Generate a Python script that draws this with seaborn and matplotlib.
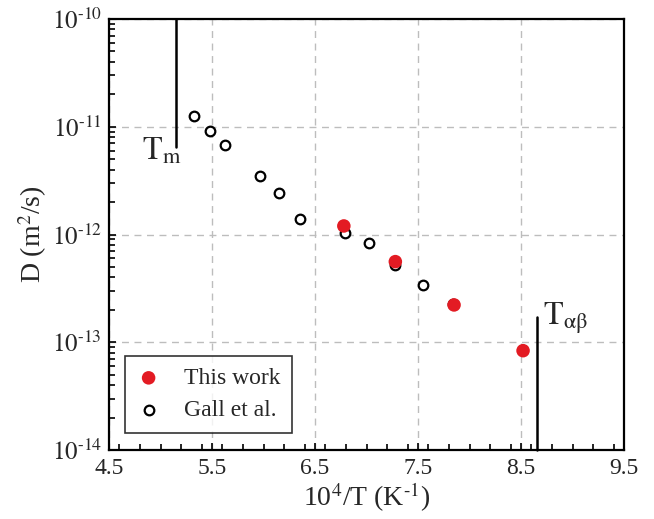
import matplotlib
matplotlib.use("Agg")
import matplotlib.pyplot as plt
import numpy as np
import pandas as pd
import seaborn as sns
from matplotlib.ticker import MultipleLocator, LogLocator, FixedLocator, NullFormatter, FuncFormatter

# Diffusion coefficient vs inverse temperature
gall_x = [5.33, 5.48, 5.63, 5.97, 6.15, 6.35, 6.79, 7.02, 7.28, 7.55, 7.84]
gall_d = [1.27e-11, 9.1e-12, 6.7e-12, 3.5e-12, 2.44e-12, 1.40e-12, 1.04e-12,
          8.3e-13, 5.2e-13, 3.4e-13, 2.25e-13]
this_x = [6.78, 7.28, 7.85, 8.52]
this_d = [1.20e-12, 5.6e-13, 2.22e-13, 8.35e-14]

# Transition markers (10^4/T position, D extent of the vertical line)
t_melt_x = 5.15
t_melt_span = [6.5e-12, 1e-10]
t_ab_x = 8.66
t_ab_span = [1e-14, 1.73e-13]

x_ticks = [4.5, 5.5, 6.5, 7.5, 8.5, 9.5]
y_ticks = [1e-14, 1e-13, 1e-12, 1e-11, 1e-10]

sns.set_style("white")
plt.rcParams["font.family"] = ["Liberation Serif", "DejaVu Serif"]
plt.rcParams["mathtext.fontset"] = "stix"

gall = pd.DataFrame({"x": gall_x, "D": gall_d})
this = pd.DataFrame({"x": this_x, "D": this_d})

fig = plt.figure(figsize=(6.54, 5.19), dpi=100)
ax = fig.add_axes([109 / 654, 1 - 450 / 519, 515 / 654, 431 / 519])

ax.set_yscale("log")
ax.set_xlim(4.5, 9.5)
ax.set_ylim(1e-14, 1e-10)

ax.grid(True, which="major", color="#bdbdbd", linestyle=(0, (5, 4)), linewidth=1.0)
ax.set_axisbelow(True)

sns.scatterplot(data=gall, x="x", y="D", ax=ax, marker="o", s=48,
                facecolor="white", edgecolor="black", linewidth=1.6,
                label="Gall et al.", zorder=3)
sns.scatterplot(data=this, x="x", y="D", ax=ax, marker="o", s=95,
                color="#E31B23", edgecolor="none", linewidth=0,
                label="This work", zorder=4)

ax.plot([t_melt_x, t_melt_x], t_melt_span, color="black", lw=1.8, zorder=5, clip_on=False)
ax.plot([t_ab_x, t_ab_x], t_ab_span, color="black", lw=1.8, zorder=5, clip_on=False)

ax.text(5.20, 4.9e-12, r"$\mathrm{T}_{\mathrm{m}}$", fontsize=23, ha="right", va="baseline")
ax.text(8.715, 1.44e-13, r"$\mathrm{T}_{\mathrm{\alpha\beta}}$", fontsize=23, ha="left", va="baseline")

ax.xaxis.set_major_locator(FixedLocator(x_ticks))
ax.xaxis.set_minor_locator(MultipleLocator(0.2))
ax.set_xticklabels([f"{v:.1f}" for v in x_ticks])
ax.yaxis.set_major_locator(FixedLocator(y_ticks))
ax.yaxis.set_minor_locator(LogLocator(base=10, subs=np.arange(2, 10)))
ax.yaxis.set_minor_formatter(NullFormatter())
ax.yaxis.set_major_formatter(
    FuncFormatter(lambda v, p: r"$10^{\text{-}%d}$" % abs(int(round(np.log10(v))))))

ax.tick_params(axis="both", which="both", direction="in", bottom=True, left=True,
               top=False, right=False, width=1.2, labelsize=17, pad=6, color="black")
ax.tick_params(axis="both", which="major", length=5)
ax.tick_params(axis="both", which="minor", length=4)
ax.tick_params(axis="y", which="major", labelsize=18, pad=5)

for sp in ax.spines.values():
    sp.set_color("black")
    sp.set_linewidth(1.6)

ax.set_xlabel(r"10$^{4}$/T (K$^{\text{-}1}$)", fontsize=20, labelpad=1)
ax.set_ylabel(r"D (m$^{2}$/s)", fontsize=20, labelpad=2)

handles, labels = ax.get_legend_handles_labels()
order = [labels.index("This work"), labels.index("Gall et al.")]
leg = ax.legend([handles[i] for i in order], [labels[i] for i in order],
                loc="lower left", bbox_to_anchor=(16 / 515, 17 / 431),
                fontsize=17, frameon=True, fancybox=False, borderpad=0.5,
                handlelength=1.0, handletextpad=1.0, labelspacing=0.45,
                borderaxespad=0)
leg.get_frame().set_edgecolor("black")
leg.get_frame().set_linewidth(1.2)

fig.savefig("out.png", dpi=100)
